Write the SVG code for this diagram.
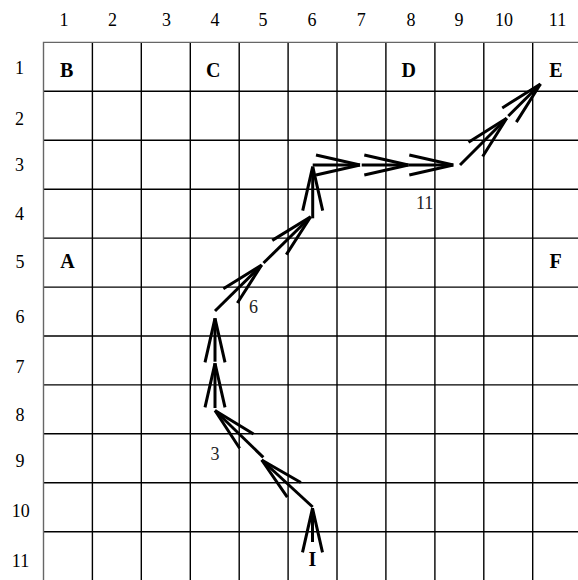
<svg xmlns="http://www.w3.org/2000/svg" width="578" height="580" viewBox="0 0 578 580">
<style>
.grid line{stroke:#000;stroke-width:1.4}
.border{stroke:#666;stroke-width:1.4;fill:none}
.num{font-family:"Liberation Serif","Times New Roman",serif;font-size:18px;fill:#000;text-anchor:middle}
.lab{font-family:"Liberation Serif","Times New Roman",serif;font-size:20px;font-weight:bold;fill:#000;text-anchor:middle}
.small{font-family:"Liberation Serif","Times New Roman",serif;font-size:18px;fill:#222}
.arr{stroke:#000;stroke-width:3;fill:none;marker-end:url(#head)}
</style>
<defs>
<marker id="head" markerUnits="userSpaceOnUse" viewBox="-50 -15 55 30" markerWidth="55" markerHeight="30" refX="0" refY="0" orient="auto" overflow="visible">
<path d="M-44,-10 L0,0 M-44,10 L0,0" stroke="#000" stroke-width="3" fill="none"/>
</marker>
</defs>
<rect width="578" height="580" fill="#fff"/>
<g id="grid" class="grid">
<line x1="92.4" y1="42.4" x2="92.4" y2="582"/>
<line x1="141.3" y1="42.4" x2="141.3" y2="582"/>
<line x1="190.3" y1="42.4" x2="190.3" y2="582"/>
<line x1="239.2" y1="42.4" x2="239.2" y2="582"/>
<line x1="288.1" y1="42.4" x2="288.1" y2="582"/>
<line x1="337" y1="42.4" x2="337" y2="582"/>
<line x1="385.9" y1="42.4" x2="385.9" y2="582"/>
<line x1="434.9" y1="42.4" x2="434.9" y2="582"/>
<line x1="483.8" y1="42.4" x2="483.8" y2="582"/>
<line x1="532.7" y1="42.4" x2="532.7" y2="582"/>
<line x1="43.5" y1="91.3" x2="582" y2="91.3"/>
<line x1="43.5" y1="140.3" x2="582" y2="140.3"/>
<line x1="43.5" y1="189.2" x2="582" y2="189.2"/>
<line x1="43.5" y1="238.1" x2="582" y2="238.1"/>
<line x1="43.5" y1="287.1" x2="582" y2="287.1"/>
<line x1="43.5" y1="336" x2="582" y2="336"/>
<line x1="43.5" y1="384.9" x2="582" y2="384.9"/>
<line x1="43.5" y1="433.8" x2="582" y2="433.8"/>
<line x1="43.5" y1="482.8" x2="582" y2="482.8"/>
<line x1="43.5" y1="531.7" x2="582" y2="531.7"/>
<path class="border" d="M43.5,582 V42.4 H582"/>
</g>
<g id="col-labels">
<text class="num" x="64" y="26">1</text>
<text class="num" x="112.5" y="26">2</text>
<text class="num" x="166.5" y="26">3</text>
<text class="num" x="215" y="26">4</text>
<text class="num" x="263" y="26">5</text>
<text class="num" x="312" y="26">6</text>
<text class="num" x="361.3" y="26">7</text>
<text class="num" x="411" y="26">8</text>
<text class="num" x="459" y="26">9</text>
<text class="num" x="504" y="26">10</text>
<text class="num" x="557.5" y="26">11</text>
</g>
<g id="row-labels">
<text class="num" x="19.5" y="74">1</text>
<text class="num" x="19.5" y="125">2</text>
<text class="num" x="19.5" y="171">3</text>
<text class="num" x="19.5" y="220">4</text>
<text class="num" x="20" y="268">5</text>
<text class="num" x="20" y="323">6</text>
<text class="num" x="20" y="373">7</text>
<text class="num" x="20" y="421">8</text>
<text class="num" x="20" y="467">9</text>
<text class="num" x="20.8" y="517">10</text>
<text class="num" x="20.5" y="567">11</text>
</g>
<g id="node-B"><text class="lab" x="66.7" y="77">B</text></g>
<g id="node-C"><text class="lab" x="213.3" y="77">C</text></g>
<g id="node-D"><text class="lab" x="408.8" y="77">D</text></g>
<g id="node-E"><text class="lab" x="555.8" y="77">E</text></g>
<g id="node-A"><text class="lab" x="67.5" y="268">A</text></g>
<g id="node-F"><text class="lab" x="555.5" y="268">F</text></g>
<g id="node-I"><text class="lab" x="312.3" y="566">I</text></g>
<g id="step-labels">
<text class="small" x="416" y="208.5">11</text>
<text class="small" x="249" y="312.5">6</text>
<text class="small" x="210.5" y="459.5">3</text>
</g>
<g id="connectors">
<line class="arr" x1="312.5" y1="542" x2="312.5" y2="508.3"/>
<line class="arr" x1="312.7" y1="507" x2="261.7" y2="460"/>
<line class="arr" x1="263.3" y1="457.3" x2="215" y2="410.5"/>
<line class="arr" x1="215" y1="408" x2="215" y2="363.3"/>
<line class="arr" x1="215" y1="361.7" x2="215" y2="318.3"/>
<line class="arr" x1="215" y1="311" x2="261.7" y2="265"/>
<line class="arr" x1="263.5" y1="263" x2="310.7" y2="216.7"/>
<line class="arr" x1="312.7" y1="218.3" x2="312.7" y2="166.7"/>
<line class="arr" x1="312.7" y1="165" x2="360" y2="165"/>
<line class="arr" x1="361.7" y1="165" x2="408.3" y2="165"/>
<line class="arr" x1="408.3" y1="165" x2="453.3" y2="165"/>
<line class="arr" x1="460" y1="165" x2="506.7" y2="118.3"/>
<line class="arr" x1="508.3" y1="116" x2="540.5" y2="84"/>
</g>
</svg>
